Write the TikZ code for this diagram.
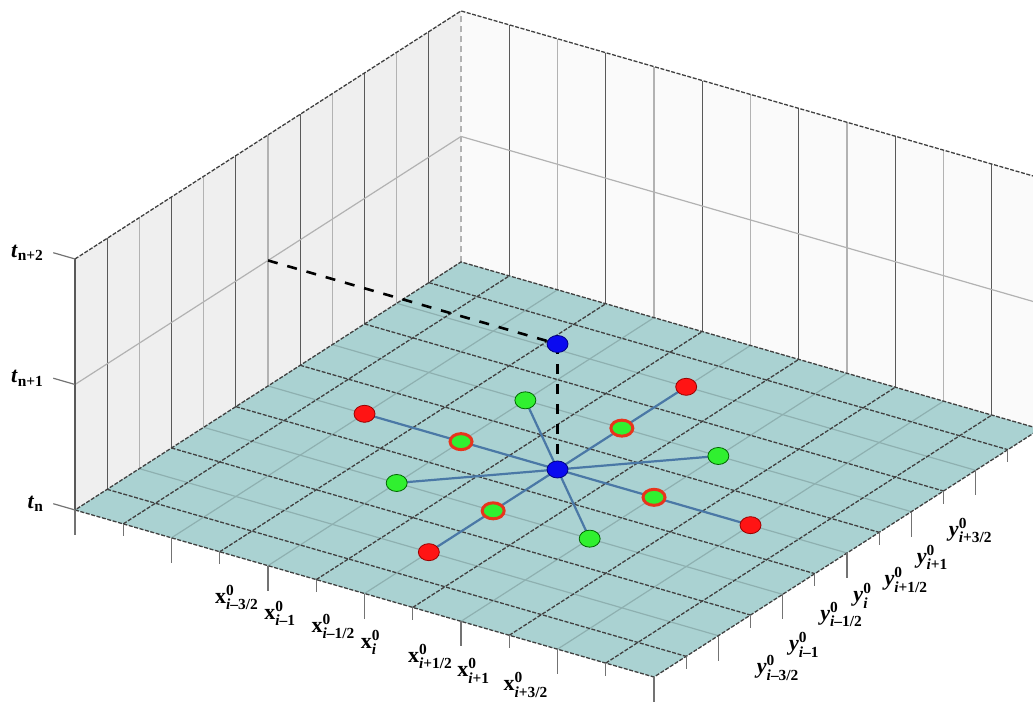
\documentclass[tikz,border=0pt]{standalone}
\usepackage{amsmath,amssymb,bm}
\usepackage{fontspec}
\setmainfont{Liberation Serif}
\usetikzlibrary{shapes.geometric,calc}
\definecolor{floorcol}{HTML}{AAD2D2}
\definecolor{floorline}{HTML}{8EB0B0}
\definecolor{lwallcol}{HTML}{EFEFEF}
\definecolor{rwallcol}{HTML}{FAFAFA}
\definecolor{linkcol}{HTML}{4A78A6}
\definecolor{ptred}{HTML}{FF1414}
\definecolor{ringred}{HTML}{E8341C}
\definecolor{ptgreen}{HTML}{30F030}
\definecolor{ptblue}{HTML}{0A0AF0}
% tick labels: bold base letter, superscript 0, subscript index
\newcommand{\xlab}[1]{$\textbf{x}^{\textbf{0}}_{\textbf{\textit{i}#1}}$}
\newcommand{\ylab}[1]{$\textbf{\textit{y}}^{\textbf{0}}_{\textbf{\textit{i}#1}}$}
\newcommand{\tlab}[1]{$\textbf{\textit{t}}_{\textbf{#1}}$}
\tikzset{
  % Floor grid: odd lines dark dashed, even lines light
  gridmajor/.style={black!75, line width=0.65pt, dash pattern=on 2pt off 0.8pt},
  gridminor/.style={floorline, line width=0.6pt},
  % Wall grid
  wallmajor/.style={black!65, line width=0.6pt},
  wallminor/.style={black!30, line width=0.6pt},
  tickline/.style={black!55, line width=0.6pt},
  % Markers on the floor
  ptbase/.style={ellipse, minimum width=10.5pt, minimum height=8.5pt, inner sep=0pt, line width=0.4pt},
  redpt/.style={ptbase, draw=red!60!black, fill=ptred},
  greenpt/.style={ptbase, draw=green!40!black, fill=ptgreen},
  ringpt/.style={ptbase, minimum width=11pt, minimum height=8pt, draw=ringred, line width=1.5pt, fill=ptgreen},
  bluept/.style={ptbase, draw=blue!50!black, fill=ptblue},
  % Connectors
  link/.style={linkcol, line width=1.1pt},
  guide/.style={black, line width=1.3pt, dash pattern=on 5pt off 5pt},
  % Axis labels
  axlab/.style={font=\fontsize{11}{13}\selectfont, inner sep=0pt}
}

\begin{document}
\begin{tikzpicture}
\useasboundingbox (0,0) rectangle (516.5pt,352pt);
\clip (0,0) rectangle (516.5pt,352pt);

\begin{scope}[shift={(37.5pt,97pt)}, x={(24.125pt,-6.96pt)}, y={(16.085pt,10.335pt)}, z={(0pt,62.75pt)}]

% ============== Walls ==============
\fill[lwallcol] (0,0,0) -- (0,12,0) -- (0,12,2) -- (0,0,2) -- cycle;
\fill[rwallcol] (0,12,0) -- (12,12,0) -- (12,12,2) -- (0,12,2) -- cycle;
\foreach \k in {2,4,...,10} {
  \draw[wallminor] (0,\k,0) -- (0,\k,2);
  \draw[wallminor] (\k,12,0) -- (\k,12,2);
}
\foreach \k in {1,3,...,11} {
  \draw[wallmajor] (0,\k,0) -- (0,\k,2);
  \draw[wallmajor] (\k,12,0) -- (\k,12,2);
}
\draw[wallminor] (0,0,1) -- (0,12,1) -- (12,12,1);
\draw[wallminor, densely dashed] (0,12,0) -- (0,12,2);
\draw[gridmajor] (0,0,2) -- (0,12,2) -- (12,12,2);
\draw[wallmajor] (0,0,0) -- (0,0,2);

% ============== Floor ==============
\fill[floorcol] (0,0,0) -- (12,0,0) -- (12,12,0) -- (0,12,0) -- cycle;
\foreach \k in {2,4,...,10} {
  \draw[gridminor] (\k,0,0) -- (\k,12,0);
  \draw[gridminor] (0,\k,0) -- (12,\k,0);
}
\foreach \k in {1,3,...,11} {
  \draw[gridmajor] (\k,0,0) -- (\k,12,0);
  \draw[gridmajor] (0,\k,0) -- (12,\k,0);
}
\draw[gridmajor] (0,0,0) -- (12,0,0) -- (12,12,0) -- (0,12,0) -- cycle;

% ============== Ticks ==============
\foreach \k in {0,2,...,12} {
  \draw[tickline] (\k,0,0) -- (\k,0,-0.2);
  \draw[tickline] (12,\k,0) -- (12,\k,-0.2);
}
\foreach \k in {1,3,...,11} {
  \draw[tickline] (\k,0,0) -- (\k,0,-0.1);
  \draw[tickline] (12,\k,0) -- (12,\k,-0.1);
}
\foreach \z in {0,1,2}
  \draw[tickline] (0,0,\z) -- (-0.45,0,\z);

% ============== Axis labels ==============
\coordinate (tz0) at (-0.45,0,0);
\coordinate (tz1) at (-0.45,0,1);
\coordinate (tz2) at (-0.45,0,2);
\node[axlab, anchor=east] (tn0) at ($(tz0)+(-4.5pt,0)$) {\tlab{n}};
\node[axlab, anchor=east] (tn1) at ($(tz1)+(-4.5pt,0)$) {\tlab{n+1}};
\node[axlab, anchor=east] (tn2) at ($(tz2)+(-4.5pt,0)$) {\tlab{n+2}};

\coordinate (xt3) at (3,0,0);
\coordinate (xt4) at (4,0,0);
\coordinate (xt5) at (5,0,0);
\coordinate (xt6) at (6,0,0);
\coordinate (xt7) at (7,0,0);
\coordinate (xt8) at (8,0,0);
\coordinate (xt9) at (9,0,0);
\node[axlab, anchor=north west] (xl3) at ($(xt3)+(-2.5pt,-16.5pt)$) {\xlab{--3/2}};
\node[axlab, anchor=north west] (xl4) at ($(xt4)+(-2pt,-17.5pt)$) {\xlab{--1}};
\node[axlab, anchor=north west] (xl5) at ($(xt5)+(-2.5pt,-17pt)$) {\xlab{--1/2}};
\node[axlab, anchor=north west] (xl6) at ($(xt6)+(-2pt,-18pt)$) {\xlab{}};
\node[axlab, anchor=north west] (xl7) at ($(xt7)+(-2.5pt,-18pt)$) {\xlab{+1/2}};
\node[axlab, anchor=north west] (xl8) at ($(xt8)+(-2pt,-18.5pt)$) {\xlab{+1}};
\node[axlab, anchor=north west] (xl9) at ($(xt9)+(-3pt,-18.5pt)$) {\xlab{+3/2}};

\coordinate (yt3) at (12,3,0);
\coordinate (yt4) at (12,4,0);
\coordinate (yt5) at (12,5,0);
\coordinate (yt6) at (12,6,0);
\coordinate (yt7) at (12,7,0);
\coordinate (yt8) at (12,8,0);
\coordinate (yt9) at (12,9,0);
\node[axlab, anchor=north west] (yl3) at ($(yt3)+(3pt,-20pt)$) {\ylab{--3/2}};
\node[axlab, anchor=north west] (yl4) at ($(yt4)+(3pt,-19pt)$) {\ylab{--1}};
\node[axlab, anchor=north west] (yl5) at ($(yt5)+(2.5pt,-14pt)$) {\ylab{--1/2}};
\node[axlab, anchor=north west] (yl6) at ($(yt6)+(3pt,-15pt)$) {\ylab{}};
\node[axlab, anchor=north west] (yl7) at ($(yt7)+(2.5pt,-17.5pt)$) {\ylab{+1/2}};
\node[axlab, anchor=north west] (yl8) at ($(yt8)+(2.5pt,-16.5pt)$) {\ylab{+1}};
\node[axlab, anchor=north west] (yl9) at ($(yt9)+(2.5pt,-13.5pt)$) {\ylab{+3/2}};

% ============== Stencil points ==============
\coordinate (c) at (6,6,0);
\coordinate (ctop) at (6,6,1);
\coordinate (wallpt) at (0,6,1);
\coordinate (rxm) at (2,6,0);
\coordinate (rxp) at (10,6,0);
\coordinate (rym) at (6,2,0);
\coordinate (ryp) at (6,10,0);
\coordinate (hxm) at (4,6,0);
\coordinate (hxp) at (8,6,0);
\coordinate (hym) at (6,4,0);
\coordinate (hyp) at (6,8,0);
\coordinate (gmm) at (4,4,0);
\coordinate (gmp) at (4,8,0);
\coordinate (gpm) at (8,4,0);
\coordinate (gpp) at (8,8,0);

% dashed guides to the next time level
\draw[guide] (wallpt) -- (ctop);
\draw[guide] (ctop) -- (c);

% spokes from the centre
\draw[link] (c) -- (rxm);
\draw[link] (c) -- (rxp);
\draw[link] (c) -- (rym);
\draw[link] (c) -- (ryp);
\draw[link] (c) -- (gmm);
\draw[link] (c) -- (gmp);
\draw[link] (c) -- (gpm);
\draw[link] (c) -- (gpp);

\node[redpt] (nrxm) at (rxm) {};
\node[redpt] (nrxp) at (rxp) {};
\node[redpt] (nrym) at (rym) {};
\node[redpt] (nryp) at (ryp) {};
\node[ringpt] (nhxm) at (hxm) {};
\node[ringpt] (nhxp) at (hxp) {};
\node[ringpt] (nhym) at (hym) {};
\node[ringpt] (nhyp) at (hyp) {};
\node[greenpt] (ngmm) at (gmm) {};
\node[greenpt] (ngmp) at (gmp) {};
\node[greenpt] (ngpm) at (gpm) {};
\node[greenpt] (ngpp) at (gpp) {};
\node[bluept] (nc) at (c) {};
\node[bluept] (nctop) at (ctop) {};

\end{scope}
\end{tikzpicture}
\end{document}
